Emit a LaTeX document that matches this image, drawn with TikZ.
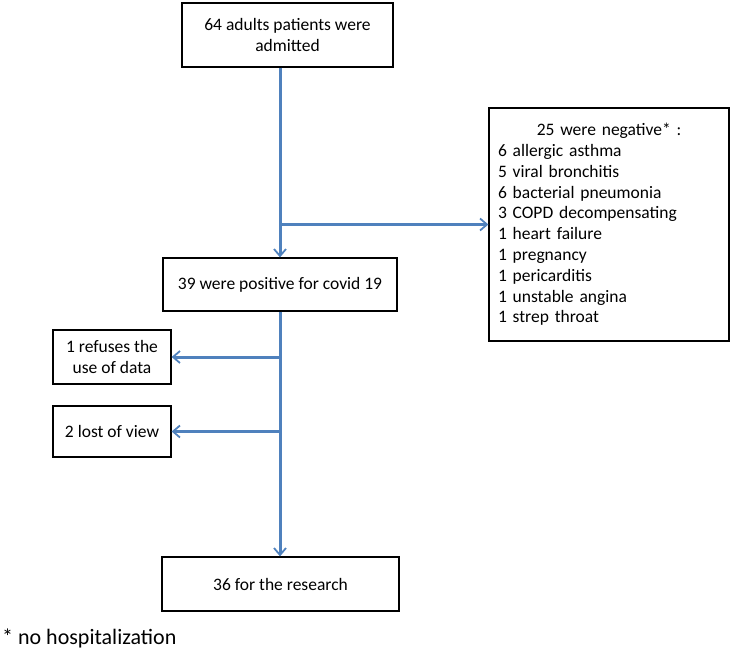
\documentclass[tikz,border=0pt]{standalone}
\usepackage{fontspec}
\setmainfont{Carlito}
\usepackage{tikz}
\usetikzlibrary{arrows.meta,positioning}
\definecolor{flowblue}{RGB}{79,129,189}

\begin{document}
\begin{tikzpicture}[
  x=1pt,y=-1pt,
  >={Straight Barb[length=7pt,width=12pt,line width=1.8pt]},
  box/.style={draw,line width=1.2pt,inner sep=0pt,align=center,
              font=\fontsize{17.5}{20.8}\selectfont},
  flow/.style={->,flowblue,line width=3pt}
]
  \useasboundingbox (0,0) rectangle (739,659);

  \node[box,minimum width=211pt,minimum height=64pt] (adm) at (287.5,35)
    {64 adults patients were\\admitted};
  \node[box,minimum width=234pt,minimum height=53pt] (pos) at (280,284.5)
    {39 were positive for covid 19};
  \node[box,minimum width=240pt,minimum height=233pt,align=left,
        text width=222pt] (neg) at (609,224.5)
    {\makebox[222pt]{25 were negative* :}\\
     6 allergic asthma\\
     5 viral bronchitis\\
     6 bacterial pneumonia\\
     3 COPD decompensating\\
     1 heart failure\\
     1 pregnancy\\
     1 pericarditis\\
     1 unstable angina\\
     1 strep throat};
  \node[box,minimum width=118pt,minimum height=54pt] (ref) at (112,357)
    {1 refuses the\\use of data};
  \node[box,minimum width=118pt,minimum height=51pt] (lost) at (112,431.5)
    {2 lost of view};
  \node[box,minimum width=237pt,minimum height=54pt] (res) at (280.5,584)
    {36 for the research};

  \coordinate (trunk) at (280,0);
  \coordinate (split) at (280,224.5);

  \draw[flow] (adm.south -| trunk) -- (pos.north -| trunk);
  \draw[flow] (split) -- (neg.west);
  \draw[flow] (pos.south -| trunk) -- (res.north -| trunk);
  \draw[flow] (ref.east -| trunk) -- (ref.east);
  \draw[flow] (lost.east -| trunk) -- (lost.east);

  \node[anchor=west,inner sep=0pt,font=\fontsize{22}{25}\selectfont] (note)
    at (2,638) {* no hospitalization};
\end{tikzpicture}
\end{document}
